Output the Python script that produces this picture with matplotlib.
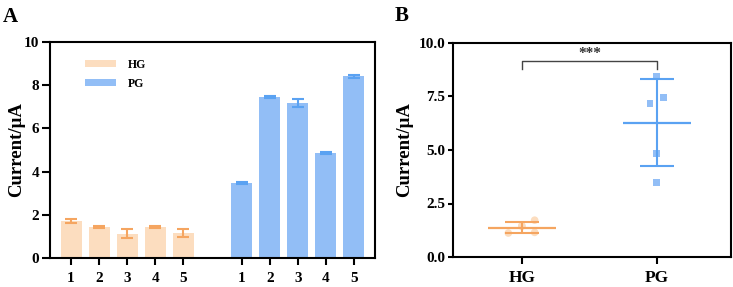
import numpy as np
import matplotlib
matplotlib.use("Agg")
import matplotlib.pyplot as plt

plt.rcParams['font.family'] = ['Liberation Serif', 'DejaVu Serif']
plt.rcParams['font.weight'] = 'bold'

# data
samples = ['1', '2', '3', '4', '5']
hg_mean = [1.72, 1.45, 1.12, 1.45, 1.15]
hg_err = [0.08, 0.05, 0.20, 0.05, 0.17]
pg_mean = [3.48, 7.45, 7.18, 4.85, 8.42]
pg_err = [0.06, 0.06, 0.17, 0.04, 0.07]

groups = ['HG', 'PG']
hg_jitter = [0.095, 0.0, -0.1, 0.0, 0.095]
pg_jitter = [0.0, 0.047, -0.05, 0.0, 0.0]

hg_bar = '#FCDDBF'
hg_line = '#F5A560'
pg_bar = '#92BEF6'
pg_line = '#5AA2F2'

fig = plt.figure(figsize=(7.33, 2.87), dpi=100)
ax1 = fig.add_axes([50/733, 1 - 258/287, 325/733, 216/287])
ax2 = fig.add_axes([453/733, 1 - 257/287, 278/733, 214/287])

# panel A
x_hg = np.arange(5)
x_pg = np.arange(5) + 6.1
ax1.bar(x_hg, hg_mean, width=0.75, color=hg_bar, label='HG')
ax1.bar(x_pg, pg_mean, width=0.75, color=pg_bar, label='PG')
ax1.errorbar(x_hg, hg_mean, yerr=hg_err, fmt='none', ecolor=hg_line,
             elinewidth=1.5, capsize=4, capthick=1.5)
ax1.errorbar(x_pg, pg_mean, yerr=pg_err, fmt='none', ecolor=pg_line,
             elinewidth=1.5, capsize=4, capthick=1.5)
ax1.set_xlim(-0.75, 10.85)
ax1.set_ylim(0, 10)
ax1.set_yticks([0, 2, 4, 6, 8, 10])
ax1.set_xticks(list(x_hg) + list(x_pg))
ax1.set_xticklabels(samples + samples)
ax1.set_ylabel('Current/μA', fontsize=13.5, fontweight='bold', labelpad=-1)
ax1.legend(loc='upper left', bbox_to_anchor=(0.075, 0.97), frameon=False,
           handlelength=2.6, handleheight=0.55, prop={'size': 8.5, 'weight': 'bold'},
           labelspacing=0.55, handletextpad=1.0)
fig.text(3/733, 1 - 22/287, 'A', fontsize=15, fontweight='bold')

# panel B
hg_avg, hg_sd = np.mean(hg_mean), np.std(hg_mean, ddof=1)
pg_avg, pg_sd = np.mean(pg_mean), np.std(pg_mean, ddof=1)

ax2.scatter(np.array(hg_jitter), hg_mean, s=30, marker='o', color=hg_bar,
            edgecolors='none', zorder=2)
ax2.scatter(1 + np.array(pg_jitter), pg_mean, s=24, marker='s', color=pg_bar,
            edgecolors='none', zorder=2)
for xc, m, sd, c in [(0, hg_avg, hg_sd, hg_line), (1, pg_avg, pg_sd, pg_line)]:
    ax2.hlines(m, xc - 0.25, xc + 0.25, color=c, lw=1.6, zorder=3)
    ax2.errorbar(xc, m, yerr=sd, fmt='none', ecolor=c, elinewidth=1.5,
                 capsize=12, capthick=1.5, zorder=3)

ax2.plot([0, 0, 1, 1], [8.77, 9.14, 9.14, 8.77], color='#444444', lw=1)
ax2.text(0.5, 9.2, '***', ha='center', va='bottom', fontsize=11, color='#333333')

ax2.set_xlim(-0.51, 1.55)
ax2.set_ylim(0, 10)
ax2.set_yticks([0, 2.5, 5, 7.5, 10])
ax2.set_yticklabels(['0.0', '2.5', '5.0', '7.5', '10.0'])
ax2.set_xticks([0, 1])
ax2.set_xticklabels(groups)
ax2.set_ylabel('Current/μA', fontsize=13.5, fontweight='bold', labelpad=4)
fig.text(395/733, 1 - 21/287, 'B', fontsize=15, fontweight='bold')

for ax in (ax1, ax2):
    for s in ax.spines.values():
        s.set_linewidth(1.5)
    ax.tick_params(width=1.5, labelsize=11)
    for lab in ax.get_xticklabels() + ax.get_yticklabels():
        lab.set_fontweight('bold')
ax1.tick_params(axis='y', length=6, pad=2)
ax1.tick_params(axis='x', length=5, pad=5, labelsize=11)
ax2.tick_params(axis='y', length=3.5, pad=2)
ax2.tick_params(axis='x', length=5, pad=4, labelsize=12.5)

fig.savefig('out.png', dpi=100)
